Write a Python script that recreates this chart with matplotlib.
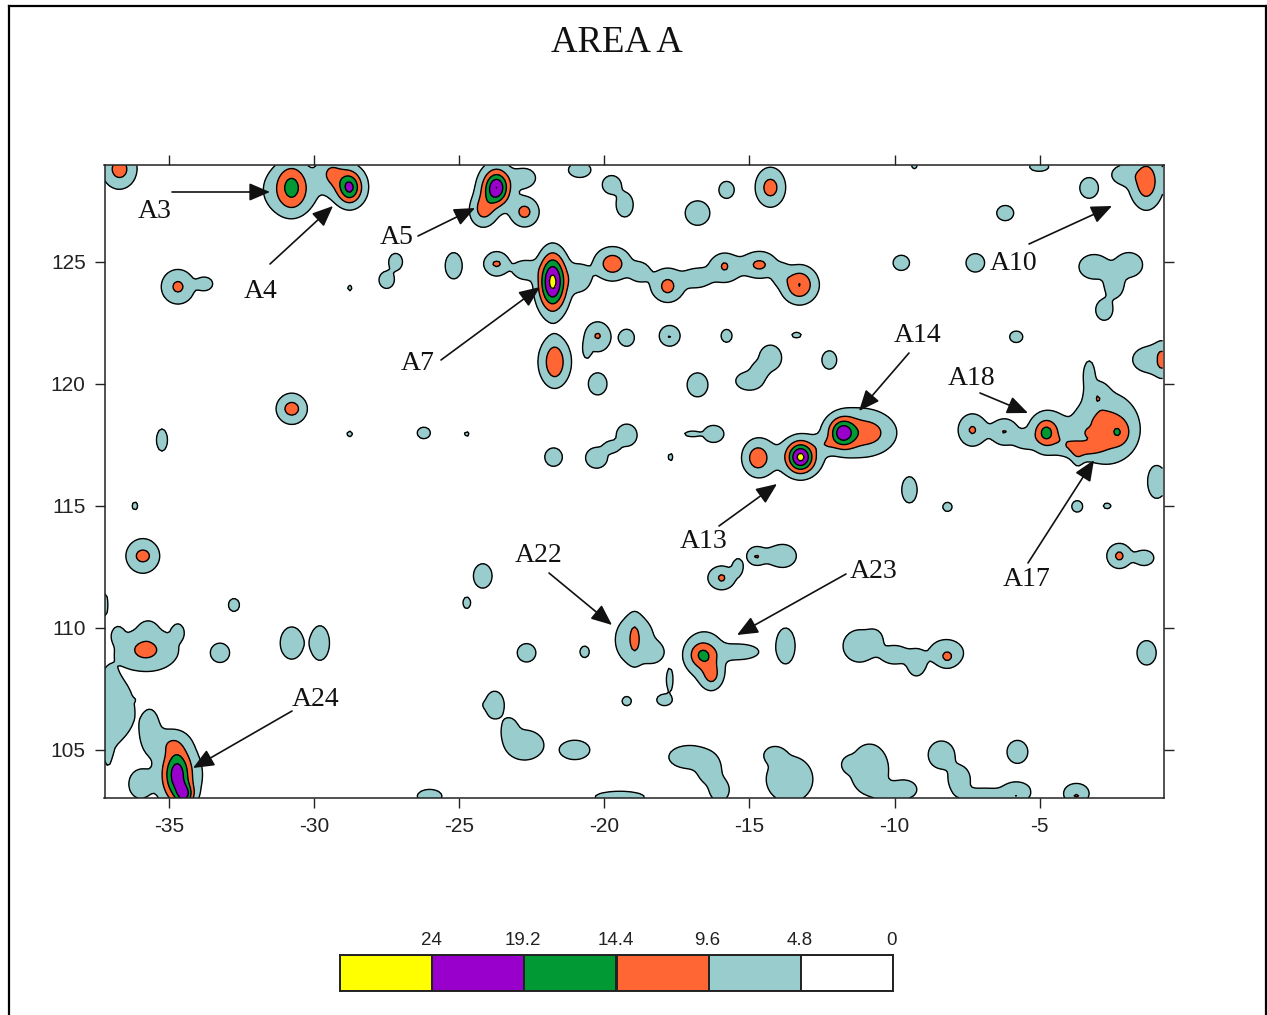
import numpy as np
import matplotlib
matplotlib.use("Agg")
import matplotlib.pyplot as plt
from matplotlib.lines import Line2D

plt.rcParams["axes.unicode_minus"] = False

W, H = 1267, 1015
levels = [0, 4.8, 9.6, 14.4, 19.2, 24, 40]
colors = ["#FFFFFF", "#99CCCC", "#FF6633", "#009933", "#9900CC", "#FFFF00"]
legend_labels = ["24", "19.2", "14.4", "9.6", "4.8", "0"]
xticks = [-35, -30, -25, -20, -15, -10, -5]
yticks = [105, 110, 115, 120, 125]

# broad low-level patches (value about 7.5 at the centre)
base_peak = 7.5
base_lon = [-36.72,-30.83,-28.77,-29.46,-23.71,-24.19,-22.75,-22.75,-20.85,-19.75,-19.3,-15.79,-14.28,-16.79,-6.19,-3.3,-1.33,-2.09,-5.02,-9.32,
            -34.69,-33.76,-27.19,-27.5,-25.19,-23.71,-22.75,-21.78,-20.85,-19.72,-18.79,-17.82,-16.8,-15.86,-14.66,-13.9,-13.28,-9.77,-7.22,-3.13,-1.93,-2.44,-2.78,-28.77,
            -20.23,-19.23,-17.75,-15.79,-13.38,-5.81,-21.71,-20.23,-14.28,-15.0,-14.66,-12.25,-16.79,-1.23,-0.79,
            -3.3,-3.02,-2.68,-3.57,-4.74,-5.53,-6.22,-7.32,-0.99,
            -30.77,-35.24,-28.77,-26.22,-24.74,-21.75,-20.27,-19.23,-19.75,-17.72,-16.97,-16.24,-14.66,-13.24,-11.32,-12.42,-9.49,-8.18,-3.71,-2.68,-36.17,
            -35.9,-32.76,-24.19,-24.74,-37.2,-35.72,-36.76,-35.72,-34.69,-33.24,-30.77,-29.8,-22.68,-20.68,-18.96,-16.55,-16.31,-15.34,-13.76,
            -11.21,-10.0,-9.25,-8.22,-1.32,-15.96,-14.76,-13.8,-2.26,-1.4,
            -36.76,-37.1,-35.65,-34.69,-26.02,-23.78,-23.26,-22.75,-21.02,-19.23,-17.93,-17.75,
            -17.07,-16.38,-16.03,-19.47,-13.62,-14.14,-10.87,-11.56,-9.66,-8.39,-7.77,-6.91,-5.77,-5.81,-3.74,
            -18.3,-10.7,-20.6,-37.1,-35.0,-36.0,-15.4,-14.0,-10.3,-4.1]
base_lat = [128.85,127.95,128.07,128.69,128.16,127.05,127.05,128.44,128.77,128.16,127.34,127.95,128.07,127.0,127.0,128.03,128.36,128.57,128.9,128.93,
            123.98,124.1,125.0,124.26,124.84,124.92,124.67,124.1,124.34,124.92,124.59,124.06,124.34,124.75,124.88,124.47,124.06,124.96,124.96,124.8,124.88,124.06,123.03,123.93,
            121.93,121.89,121.97,121.97,122.0,121.93,120.9,120.0,121.07,120.12,120.57,120.98,119.96,121.0,121.0,
            120.37,119.55,118.11,117.3,118.0,117.7,118.03,118.11,115.98,
            118.98,117.7,117.95,117.99,117.95,117.0,116.97,117.9,117.42,117.0,117.95,117.95,116.97,117.0,118.0,117.5,115.66,114.96,114.98,115.0,115.0,
            112.95,110.94,112.13,111.03,110.95,109.1,109.71,109.92,109.83,108.98,109.38,109.38,108.98,109.02,109.51,108.9,108.07,109.02,109.26,
            109.26,108.9,108.57,108.98,108.98,112.05,112.95,112.95,112.95,112.87,
            106.64,105.2,105.8,104.0,103.1,106.84,105.82,105.2,105.0,107.0,107.05,107.87,
            104.71,104.18,103.36,103.07,103.8,104.8,104.2,104.4,103.38,104.8,103.78,103.15,104.92,103.36,103.25,
            109.0,109.5,121.4,106.7,105.3,103.6,112.5,112.95,103.3,117.6]
base_sx = [.58,.93,.62,.41,.62,.41,.48,.4,.41,.34,.31,.28,.48,.45,.31,.34,.6,.45,.35,.1,
           .6,.28,.25,.28,.31,.45,.4,.55,.4,.62,.35,.62,.48,.58,.62,.28,.65,.3,.34,.55,.5,.35,.31,.08,
           .48,.28,.38,.2,.17,.24,.58,.34,.41,.5,.28,.27,.38,.6,.35,
           .2,.35,1.0,.6,.68,.35,.48,.52,.31,
           .48,.2,.1,.24,.08,.32,.4,.38,.28,.08,.28,.38,.58,.75,1.1,.35,.28,.17,.2,.14,.1,
           .58,.2,.34,.14,.1,1.1,.2,.28,.2,.35,.42,.35,.34,.17,.7,.7,.35,.7,.35,
           .6,.5,.34,.62,.35,.5,.35,.35,.45,.35,
           .6,.15,.35,.85,.45,.35,.28,.7,.55,.17,.28,.12,
           .75,.42,.35,.9,.85,.35,.7,.25,.45,.48,.4,.8,.38,.5,.45,
           .35,.28,.13,.4,.6,.4,.18,.5,.4,.4]
base_sy = [.82,.98,.82,.6,.9,.57,.6,.4,.33,.4,.53,.37,.78,.53,.33,.45,1.0,.4,.2,.12,
           .74,.28,.37,.37,.57,.53,.4,1.2,.57,.65,.4,.7,.4,.62,.57,.4,.74,.33,.4,.53,.53,.57,.45,.12,
           .65,.37,.45,.28,.12,.25,1.0,.48,.55,.4,.33,.4,.52,.55,.7,
           .6,.5,1.25,.33,.9,.33,.57,.7,.7,
           .62,.48,.12,.25,.1,.4,.45,.48,.25,.16,.12,.37,.8,.8,.95,.3,.57,.2,.25,.12,.17,
           .74,.28,.53,.25,.5,.9,.33,.33,.33,.42,.7,.75,.4,.25,1.05,.95,.48,.33,.78,
           .7,.4,.57,.57,.53,.5,.4,.4,.53,.33,
           1.2,.8,.9,1.25,.3,.6,.5,.65,.42,.2,.25,.5,
           .5,.6,.5,.25,1.0,.33,1.1,.3,.4,.6,.6,.3,.5,.35,.4,
           .4,.4,.35,1.6,.5,.6,.35,.4,.3,.35]

# narrow high-value cores
core_lon = [-36.69,-30.77,-28.77,-29.18,-23.71,-24.12,-22.75,-14.28,-34.69,-23.71,-21.78,-19.72,-17.82,-15.86,-14.66,-13.28,-21.71,-20.23,-17.75,-30.77,
            -14.72,-13.24,-11.8,-10.87,-4.78,-6.22,-7.32,-2.26,-2.78,-3.3,-3.71,-1.33,-0.78,-0.78,-35.9,-35.83,-34.72,-34.45,-36.41,-24.05,
            -18.96,-16.62,-16.31,-8.18,-2.26,-14.76,-15.96,-10.7,-5.81,-3.74,-3.3]
core_lat = [128.77,128.07,128.03,128.44,128.03,127.34,127.05,128.03,123.98,124.92,124.2,124.92,123.98,124.84,124.88,124.06,120.9,121.97,121.93,118.98,
            116.97,117.0,117.99,117.99,117.99,118.03,118.11,117.99,118.32,117.99,116.97,128.24,120.98,115.98,112.95,109.1,103.98,103.16,107.05,106.84,
            109.59,108.89,108.07,108.77,112.95,112.91,112.05,104.8,103.07,103.07,117.4]
core_peak = [4,9,12,3.5,16,4,3.5,4,3.5,3,18,5,4,3,3.5,7,7,3,2.5,4,
             6,18,15,5,9,2.5,3,5,4,3,3,5,3,3,4,4,15,12,2.5,2.5,
             4,8,3,3.5,3.5,2.5,3,2.5,3.5,3,3]
core_sx = [.3,.35,.25,.4,.28,.3,.25,.28,.2,.2,.3,.32,.22,.15,.25,.3,.22,.13,.1,.3,
           .25,.3,.3,.6,.25,.12,.15,.25,.7,.12,.15,.3,.12,.12,.25,.4,.3,.2,.15,.1,
           .15,.3,.25,.2,.15,.12,.15,.06,.3,.2,.45]
core_sy = [.4,.65,.4,.5,.45,.5,.3,.4,.25,.15,.75,.35,.3,.22,.2,.4,.5,.15,.1,.3,
           .35,.4,.4,.5,.35,.12,.2,.35,.9,.12,.4,.7,.4,.3,.25,.35,.7,.3,.06,.1,
           .6,.35,.5,.25,.2,.12,.2,.12,.15,.15,.2]

lon = np.arange(-37.22, -0.70, 0.09)
lat = np.arange(103.03, 129.02, 0.09)
X, Y = np.meshgrid(lon, lat)
blend = 2.5
Z = np.zeros_like(X)
for a, b, sa, sb in zip(base_lon, base_lat, base_sx, base_sy):
    Z += (base_peak * np.exp(-0.5 * (((X - a) / sa) ** 2 + ((Y - b) / sb) ** 2))) ** blend
Z = np.minimum(Z ** (1 / blend), 8.5)
for a, b, p, sa, sb in zip(core_lon, core_lat, core_peak, core_sx, core_sy):
    Z += p * np.exp(-0.5 * (((X - a) / sa) ** 2 + ((Y - b) / sb) ** 2))

dpi = 100
fig = plt.figure(figsize=(W / dpi, H / dpi), dpi=dpi, facecolor="white")

def frac(px, py):
    return px / W, 1 - py / H

ax = fig.add_axes([104.5 / W, 1 - 798 / H, (1164 - 104.5) / W, (798 - 165) / H])
ax.contourf(X, Y, Z, levels=levels, colors=colors)
ax.contour(X, Y, Z, levels=levels[1:-1], colors="black", linewidths=1.0)
ax.set_xlim(-37.22, -0.72)
ax.set_ylim(103.03, 128.97)
ax.set_xticks(xticks)
ax.set_yticks(yticks)
ax.tick_params(axis="both", which="major", direction="out", length=7.5, width=1, top=True, right=True,
               labelsize=15, pad=6, colors="#222222")
for t in ax.get_xticklabels() + ax.get_yticklabels():
    t.set_fontfamily("Liberation Sans")
for s in ax.spines.values():
    s.set_linewidth(1.1)
    s.set_color("#222222")

serif = "Liberation Serif"
fig.text(*frac(617, 43), "AREA A", family=serif, fontsize=26.5, ha="center", va="center", color="#111111")

callouts = [
    ("A3", (155, 211), (172, 192), (270, 192)),
    ("A4", (261, 292), (270, 264), (333, 206)),
    ("A5", (397, 238), (418, 236), (475, 208)),
    ("A7", (418, 364), (441, 360), (540, 287)),
    ("A10", (1014, 264), (1029, 244), (1112, 206)),
    ("A14", (918, 336), (909, 353), (859, 411)),
    ("A18", (972, 378), (980, 393), (1028, 413)),
    ("A13", (704, 542), (719, 526), (777, 484)),
    ("A17", (1027, 580), (1028, 563), (1094, 460)),
    ("A22", (539, 555), (549, 573), (612, 625)),
    ("A23", (874, 572), (846, 574), (737, 635)),
    ("A24", (316, 699), (292, 711), (193, 768)),
]
for name, tp, p0, p1 in callouts:
    fig.text(*frac(*tp), name, family=serif, fontsize=20, ha="center", va="center", color="#111111", zorder=6)
    ax.annotate("", xy=frac(*p1), xytext=frac(*p0), xycoords="figure fraction", textcoords="figure fraction",
                arrowprops=dict(arrowstyle="-|>,head_length=0.75,head_width=0.32", color="#111111", lw=1.2,
                                shrinkA=0, shrinkB=0, mutation_scale=17), zorder=6)

# colour key
cax = fig.add_axes([340 / W, 1 - 990.5 / H, (893 - 340) / W, 35.5 / H])
key_colors = colors[::-1]
for i, c in enumerate(key_colors):
    cax.bar(i, 1, width=1, align="edge", color=c, edgecolor="#222222", linewidth=1.4)
cax.set_xlim(0, len(key_colors))
cax.set_ylim(0, 1)
cax.set_yticks([])
cax.set_xticks(np.arange(1, 7) - 0.012)
cax.set_xticklabels(legend_labels, family="Liberation Sans", fontsize=13.5, color="#222222")
cax.tick_params(axis="x", length=0, top=True, labeltop=True, bottom=False, labelbottom=False, pad=4)
for s in cax.spines.values():
    s.set_linewidth(1.4)
    s.set_color("#222222")

# page border
for xs, ys in [((9, 9), (6, 1015)), ((9, 1266), (6, 6)), ((1266, 1266), (6, 1015))]:
    fig.add_artist(Line2D([x / W for x in xs], [1 - y / H for y in ys], color="black", lw=1.6))

fig.savefig("out.png", dpi=dpi)
